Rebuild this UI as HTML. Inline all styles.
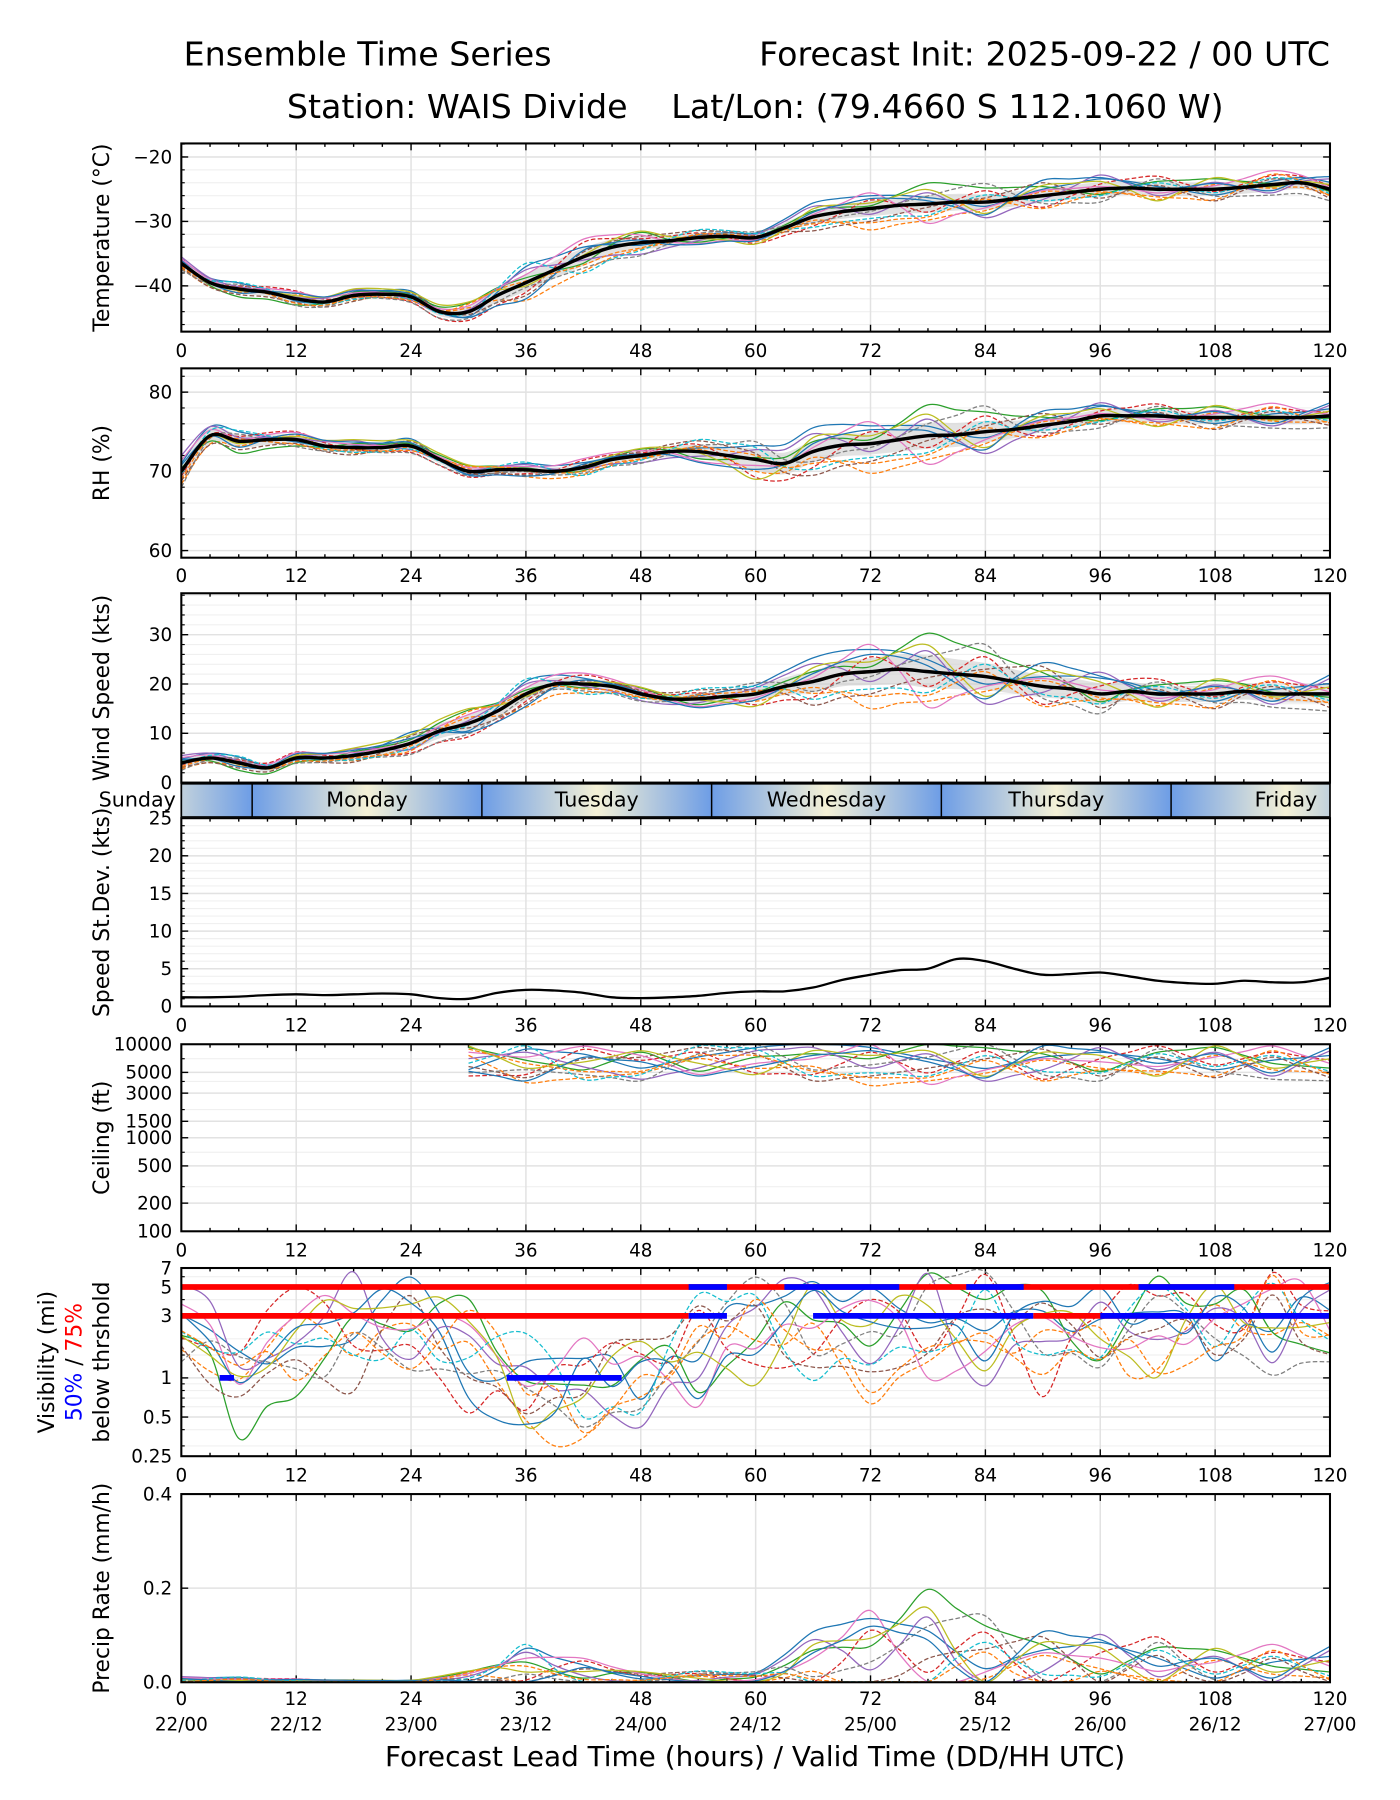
<!DOCTYPE html>
<html><head><meta charset="utf-8">
<style>
html,body{margin:0;padding:0;background:#fff;}
svg{display:block;font-family:"DejaVu Sans","Liberation Sans",sans-serif;}
</style></head>
<body>
<svg id="fig" width="1400" height="1800" viewBox="0 0 1220 1568.6" xmlns="http://www.w3.org/2000/svg">
<text x="160" y="57" font-size="29">Ensemble Time Series</text>
<text x="1159" y="57" font-size="29" text-anchor="end">Forecast Init: 2025-09-22 / 00 UTC</text>
<text x="250" y="103" font-size="29">Station: WAIS Divide</text>
<text x="585" y="103" font-size="29">Lat/Lon: (79.4660 S 112.1060 W)</text>
<text x="658" y="1539" font-size="24.3" text-anchor="middle">Forecast Lead Time (hours) / Valid Time (DD/HH UTC)</text>
</svg>
<script>
// ---- data (3-hourly means, 0..120 h) ----
const hours3 = [0,3,6,9,12,15,18,21,24,27,30,33,36,39,42,45,48,51,54,57,60,63,66,69,72,75,78,81,84,87,90,93,96,99,102,105,108,111,114,117,120];
const tempMean = [-36.5,-39.5,-40.5,-41,-42,-42.5,-41.5,-41.3,-41.7,-44,-44,-41.5,-39.5,-37.5,-35.5,-34,-33.3,-33,-32.5,-32.3,-32.5,-31,-29.3,-28.5,-28,-27.5,-27.3,-27,-27,-26.5,-26,-25.5,-25,-24.8,-25,-25,-25,-24.7,-24.3,-24,-25];
const rhMean = [70,74.5,73.8,74,74,73.2,73,73,73.2,71.5,70,70.2,70.2,70,70.5,71.5,72,72.5,72.5,72,71.5,71,72.5,73.3,73.5,74,74.5,74.6,75,75.3,75.8,76.3,77,77,77,76.8,76.8,76.8,76.8,76.8,77];
const windMean = [4,5,4,3,5,5,5.5,6.5,8,10.5,12,14.5,18,20,20,19.5,18,17,17,17.5,18,19.5,20.5,22,22.5,23,22.5,22,21.5,20.5,19.5,19,18,18.5,18,18,18,18.5,18,18,18];
const sdevMean = [1.2,1.2,1.3,1.5,1.6,1.5,1.6,1.7,1.6,1.1,1.0,1.8,2.2,2.1,1.8,1.2,1.1,1.2,1.4,1.8,2.0,2.0,2.5,3.5,4.2,4.8,5.0,6.3,6.0,5.0,4.2,4.3,4.5,4.0,3.4,3.1,3.0,3.4,3.2,3.2,3.8];
// ---- 6-hourly ----
const hours6 = [0,6,12,18,24,30,36,42,48,54,60,66,72,78,84,90,96,102,108,114,120];
const tempSpread = [1,1.2,1.2,1,1,1.5,2.5,2.5,2,1.2,1,1.8,2.2,2.5,2.2,2,2,2,1.8,1.8,1.8];
const rhSpread = [2,1.5,1,1,1,0.8,0.8,1,1,1.5,2.5,2.5,2.5,3,2.5,1.5,1.5,1.5,1.5,1.5,1.5];
const windSpread = [1.5,1.5,1.2,1.5,2.5,3,2.5,2,1.5,2,2.5,4,5,6,5,4,4,3,3,3,3.5];
const ceilMean = [null,null,null,null,null,6500,6000,6200,6000,6500,7000,6500,6500,6000,6200,6000,6000,6500,6500,6000,6000];
const visMean = [2.5,1.0,1.8,2.2,2.5,1.5,0.8,0.8,1.0,1.5,2.5,2.5,2,2.5,2.5,2,2,2.5,2.5,2.5,2.5];
const precipMean = [0.005,0.005,0.003,0.002,0.002,0.01,0.03,0.02,0.01,0.01,0.01,0.04,0.06,0.07,0.05,0.04,0.04,0.04,0.03,0.03,0.03];
const memberDev = [
[0.5,0.8,-0.3,0.2,0.9,-0.5,1.0,0.6,-0.2,0.3,0.7,1.2,0.9,0.4,-0.3,0.5,0.8,0.2,-0.5,0.3,0.6],
[-0.8,-0.4,0.6,-0.7,-0.2,0.4,-1.1,-0.9,-0.5,0.2,-0.6,-0.3,-1.5,-1.0,-0.6,0.3,-0.2,-0.8,0.4,-0.3,-0.5],
[0.2,-1.0,-0.8,0.5,0.3,0.9,0.3,-0.4,0.8,-0.6,0.1,0.5,0.2,1.3,1.0,0.7,-0.4,0.6,0.9,0.1,-0.2],
[-0.3,0.4,1.0,-0.2,-0.8,-0.9,-0.6,0.9,0.3,0.6,-0.9,-0.8,0.6,-0.5,0.8,-0.9,0.4,1.0,-0.2,0.8,0.3],
[1.0,0.3,0.2,0.9,-0.5,0.2,0.8,-0.2,-0.9,-0.4,0.5,0.9,-0.4,0.7,-1.1,-0.3,1.1,-0.5,0.6,-0.7,0.9],
[-0.6,-0.7,-0.5,-0.9,0.6,-0.3,-0.8,0.3,0.5,0.9,0.3,-1.2,-0.9,-0.2,0.3,1.0,-0.7,0.3,-1.0,0.5,-0.8],
[0.7,0.1,0.9,0.4,0.1,0.6,0.5,1.1,0.6,-0.8,-0.3,0.2,1.1,-1.2,-0.4,0.4,0.2,-0.3,0.3,1.2,0.1],
[-1.0,0.6,-0.9,-0.4,-0.9,-0.7,-0.3,-0.7,-1.0,0.5,0.9,-0.5,-0.2,0.5,1.3,-0.6,-1.0,0.8,-0.6,-0.9,-1.0],
[0.1,-0.2,0.4,1.0,0.7,1.0,-0.2,0.1,0.9,-0.1,-1.0,0.7,0.4,0.9,-0.8,0.8,0.6,-0.9,1.0,-0.2,0.4],
[-0.2,0.9,-0.1,-0.6,-0.4,-0.1,1.2,-1.0,-0.6,1.0,0.6,-0.9,-0.7,-0.7,0.5,-0.4,-0.5,0.5,-0.3,0.6,-0.4],
[0.4,-0.5,0.7,0.7,0.4,-0.6,-1.0,0.4,0.2,-0.9,-0.5,0.4,0.7,0.2,-0.9,1.2,0.9,-0.1,0.5,-0.5,1.1],
[-0.5,0.2,-0.6,-0.3,-0.6,0.8,0.1,-0.5,-0.4,0.4,0.2,-0.6,-1.0,-0.8,0.2,-1.0,-0.3,-0.6,-0.9,0.9,-0.6]
];
const visRed5 = [[0,120]];
const visBlue5 = [[53,57],[63,75],[82,88],[100,110]];
const visRed3 = [[0,53],[89,120]];
const visBlue3 = [[53,57],[66,89],[96,120]];
const visBlue1 = [[4,5.5],[34,46]];
const xTicks = [0,12,24,36,48,60,72,84,96,108,120];
const dateLabels = ["22/00","22/12","23/00","23/12","24/00","24/12","25/00","25/12","26/00","26/12","27/00"];
const dayNames = ["Sunday","Monday","Tuesday","Wednesday","Thursday","Friday"];
const dayBreaks = [7.4,31.4,55.4,79.4,103.4];

const COLORS=["#1f77b4","#ff7f0e","#2ca02c","#d62728","#9467bd","#8c564b","#e377c2","#7f7f7f","#bcbd22","#17becf","#1f77b4","#ff7f0e"];
const svg=document.getElementById('fig');
const NS="http://www.w3.org/2000/svg";
const X0=158,X1=1159;
const TICKFS=16;
const xs=h=>X0+h*(X1-X0)/120;
function mk(tag,attrs,parent){const e=document.createElementNS(NS,tag);for(const k in attrs)e.setAttribute(k,attrs[k]);(parent||svg).appendChild(e);return e;}
function smooth(pts){if(!pts.length)return"";let d="M"+pts[0][0].toFixed(1)+","+pts[0][1].toFixed(1);
 for(let i=0;i<pts.length-1;i++){const p0=pts[Math.max(0,i-1)],p1=pts[i],p2=pts[i+1],p3=pts[Math.min(pts.length-1,i+2)];
 const c1=[p1[0]+(p2[0]-p0[0])/6,p1[1]+(p2[1]-p0[1])/6],c2=[p2[0]-(p3[0]-p1[0])/6,p2[1]-(p3[1]-p1[1])/6];
 d+="C"+c1[0].toFixed(1)+","+c1[1].toFixed(1)+" "+c2[0].toFixed(1)+","+c2[1].toFixed(1)+" "+p2[0].toFixed(1)+","+p2[1].toFixed(1);}return d;}
function interp6(arr,h){const i=Math.min(19,Math.floor(h/6));const t=(h-i*6)/6;const a=arr[i],b=arr[i+1];if(a==null||b==null)return null;return a+(b-a)*t;}

function panel(name,top,bot,ys,yticks,ylabels,minorTicks,title){
 const g=mk('g',{});
 
 
 const clipId='clip-'+name;
 const cp=mk('clipPath',{id:clipId},g);mk('rect',{x:X0,y:top,width:X1-X0,height:bot-top},cp);
 for(const v of minorTicks){const y=ys(v);mk('line',{x1:X0,x2:X1,y1:y,y2:y,stroke:'#f0f0f0','stroke-width':1},g);}
 for(let h=0;h<=120;h+=12){mk('line',{x1:xs(h),x2:xs(h),y1:top,y2:bot,stroke:'#e2e2e2','stroke-width':1.3},g);}
 yticks.forEach((v,i)=>{const y=ys(v);mk('line',{x1:X0,x2:X1,y1:y,y2:y,stroke:'#e2e2e2','stroke-width':1.3},g);
  const t=mk('text',{x:X0-8,y:y+5.5,'font-size':TICKFS,'text-anchor':'end'},g);t.textContent=ylabels[i];
  
  
  mk('line',{x1:X0,x2:X0+6,y1:y,y2:y,stroke:'#000','stroke-width':1.2},g);
  mk('line',{x1:X1,x2:X1-6,y1:y,y2:y,stroke:'#000','stroke-width':1.2},g);});
 for(const v of minorTicks){const y=ys(v);mk('line',{x1:X0,x2:X0+3,y1:y,y2:y,stroke:'#000','stroke-width':1},g);}
 for(let h=0;h<=120;h+=3){const big=h%12==0;const L=big?6:3;
  mk('line',{x1:xs(h),x2:xs(h),y1:bot,y2:bot-L,stroke:'#000','stroke-width':1.2},g);
  mk('line',{x1:xs(h),x2:xs(h),y1:top,y2:top+L,stroke:'#000','stroke-width':1.2},g);}
 const plot=mk('g',{'clip-path':'url(#'+clipId+')'},g);
 if(title){const lines=Array.isArray(title)?title:[title];const cy=(top+bot)/2;
  lines.forEach((ln,i)=>{const tx=95-(lines.length-1-i)*24;const t=mk('text',{x:tx,y:cy,'font-size':19,'text-anchor':'middle',transform:'rotate(-90 '+tx+' '+cy+')'},g);
  
  
  if(typeof ln==='string')t.textContent=ln;else ln.forEach(s=>{const ts=mk('tspan',{fill:s[1]},t);ts.textContent=s[0];});});}
 return {g,plot,frame:()=>mk('rect',{x:X0,y:top,width:X1-X0,height:bot-top,fill:'none',stroke:'#000','stroke-width':1.8},g)};
}
function xlabels(y,withDates){xTicks.forEach((h,i)=>{const t=mk('text',{x:xs(h),y:y,'font-size':TICKFS,'text-anchor':'middle'});t.textContent=h;
 
 
 if(withDates){const d=mk('text',{x:xs(h),y:y+22,'font-size':TICKFS,'text-anchor':'middle'});d.textContent=dateLabels[i];
 
 }});}

function members(P,ys,mean3,spread){
 const up=[],dn=[];hours3.forEach((h,i)=>{const s=interp6(spread,h)*0.55;up.push([xs(h),ys(mean3[i]+s)]);dn.push([xs(h),ys(mean3[i]-s)]);});
 const band=mk('path',{d:smooth(up)+"L"+smooth(dn.slice().reverse()).slice(1)+"Z",fill:'#cfcfcf','fill-opacity':0.6,stroke:'none'},P.plot);
 
 
 memberDev.forEach((dv,k)=>{const pts=hours3.map((h,i)=>[xs(h),ys(mean3[i]+interp6(spread,h)*interp6(dv,h))]);
  const p=mk('path',{d:smooth(pts),fill:'none',stroke:COLORS[k],'stroke-width':1.1,'stroke-dasharray':k%2?'4 2':'none'},P.plot);
  
  });
 const m=mk('path',{d:smooth(hours3.map((h,i)=>[xs(h),ys(mean3[i])])),fill:'none',stroke:'#000','stroke-width':3},P.plot);
 
 
}
function range(a,b,s){const r=[];for(let v=a;v<=b+1e-9;v+=s)r.push(+v.toFixed(3));return r;}
function lin(top,bot,vTop,vBot){return v=>top+(vTop-v)/(vTop-vBot)*(bot-top);}

// Temperature
{const ys=lin(125,289,-17.9,-47.1);const P=panel('temperature',125,289,ys,[-20,-30,-40],['\u221220','\u221230','\u221240'],range(-46,-18,2),'Temperature (\u00b0C)');
 members(P,ys,tempMean,tempSpread);P.frame();xlabels(311,false);}
// RH
{const ys=lin(321,486,83,59.1);const P=panel('rh',321,486,ys,[80,70,60],['80','70','60'],range(60,82,2),'RH (%)');
 members(P,ys,rhMean,rhSpread);P.frame();xlabels(507,false);}
// Wind
{const ys=lin(517,682,38.4,0);const P=panel('wind',517,682,ys,[0,10,20,30],['0','10','20','30'],range(2,38,2),'Wind Speed (kts)');
 members(P,ys,windMean,windSpread);P.frame();}
// Day strip
{const g=mk('g',{});
 const defs=mk('defs',{},g);const gr=mk('linearGradient',{id:'dayg',x1:0,x2:1,y1:0,y2:0},defs);
 mk('stop',{offset:'0','stop-color':'#6d9de6'},gr);mk('stop',{offset:'0.5','stop-color':'#f5f1d6'},gr);mk('stop',{offset:'1','stop-color':'#6d9de6'},gr);
 const cp=mk('clipPath',{id:'clipday'},g);mk('rect',{x:X0,y:683,width:X1-X0,height:29},cp);
 const gg=mk('g',{'clip-path':'url(#clipday)'},g);
 const edges=[-16.6].concat(dayBreaks).concat([127.4]);
 for(let i=0;i<edges.length-1;i++){mk('rect',{x:xs(edges[i]),y:683,width:xs(edges[i+1])-xs(edges[i]),height:29,fill:'url(#dayg)'},gg);}
 dayBreaks.forEach(h=>mk('line',{x1:xs(h),x2:xs(h),y1:683,y2:712,stroke:'#000','stroke-width':1.3},g));
 dayNames.forEach((n,i)=>{const t=mk('text',{x:xs((edges[i]+edges[i+1])/2),y:703,'font-size':18,'text-anchor':'middle'},g);t.textContent=n;
  
  });
 mk('rect',{x:X0,y:683,width:X1-X0,height:29,fill:'none',stroke:'#000','stroke-width':1.5},g);}
// Speed StDev
{const ys=lin(713,877,25,0);const P=panel('speed-stdev',713,877,ys,[0,5,10,15,20,25],['0','5','10','15','20','25'],range(1,24,1),'Speed St.Dev. (kts)');
 const m=mk('path',{d:smooth(hours3.map((h,i)=>[xs(h),ys(sdevMean[i])])),fill:'none',stroke:'#000','stroke-width':2},P.plot);
 
 
 P.frame();xlabels(899,false);}
// Ceiling (log)
{const lt=Math.log(10000),lb=Math.log(100);const ys=v=>910+(lt-Math.log(v))/(lt-lb)*(1073-910);
 const P=panel('ceiling',910,1073,ys,[10000,5000,3000,1500,1000,500,200,100],['10000','5000','3000','1500','1000','500','200','100'],[2000,4000,7000,300,700],'Ceiling (ft)');
 memberDev.forEach((dv,k)=>{const pts=[];for(let h=30;h<=120;h+=3){const m=interp6(ceilMean,h);if(m==null)continue;pts.push([xs(h),ys(Math.min(10000,m*Math.pow(1.35,interp6(dv,h)*1.3)))]);}
  const p=mk('path',{d:smooth(pts),fill:'none',stroke:COLORS[k],'stroke-width':1.1,'stroke-dasharray':k%2?'4 2':'none'},P.plot);
  
  });
 P.frame();xlabels(1095,false);}
// Visibility (log)
{const lt=Math.log(7),lb=Math.log(0.25);const ys=v=>1105+(lt-Math.log(v))/(lt-lb)*(1269-1105);
 const P=panel('visibility',1105,1269,ys,[7,5,3,1,0.5,0.25],['7','5','3','1','0.5','0.25'],[2,4,6,0.3,0.4,0.6,0.7,0.8,0.9,1.5],['Visibility (mi)',[['50%','#0000ff'],[' / ','#000'],['75%','#ff0000']],'below thrshold']);
 memberDev.forEach((dv,k)=>{const pts=hours3.map(h=>[xs(h),ys(Math.max(0.3,Math.min(8,interp6(visMean,h)*Math.pow(2.2,interp6(dv,h)+0.4*interp6(memberDev[(k+5)%12],(h*2)%120)))))]);
  const p=mk('path',{d:smooth(pts),fill:'none',stroke:COLORS[k],'stroke-width':1.1,'stroke-dasharray':k%2?'4 2':'none'},P.plot);
  
  });
 const seg=(list,v,c,nm)=>list.forEach(s=>{const l=mk('line',{x1:xs(s[0]),x2:xs(s[1]),y1:ys(v),y2:ys(v),stroke:c,'stroke-width':5},P.plot);
  
  });
 seg(visRed5,5,'#ff0000','threshold-75-bar');seg(visRed3,3,'#ff0000','threshold-75-bar');
 seg(visBlue5,5,'#0000ff','threshold-50-bar');seg(visBlue3,3,'#0000ff','threshold-50-bar');seg(visBlue1,1,'#0000ff','threshold-50-bar');
 P.frame();xlabels(1291,false);}
// Precip
{const ys=lin(1302,1466,0.4,0);const P=panel('precip',1302,1466,ys,[0,0.2,0.4],['0.0','0.2','0.4'],[],'Precip Rate (mm/h)');
 memberDev.forEach((dv,k)=>{const pts=hours3.map(h=>[xs(h),ys(Math.max(0.001,interp6(precipMean,h)*(1+1.4*interp6(dv,h))))]);
  const p=mk('path',{d:smooth(pts),fill:'none',stroke:COLORS[k],'stroke-width':1.1,'stroke-dasharray':k%2?'4 2':'none'},P.plot);
  
  });
 P.frame();xlabels(1486,true);}
</script>
</body></html>
